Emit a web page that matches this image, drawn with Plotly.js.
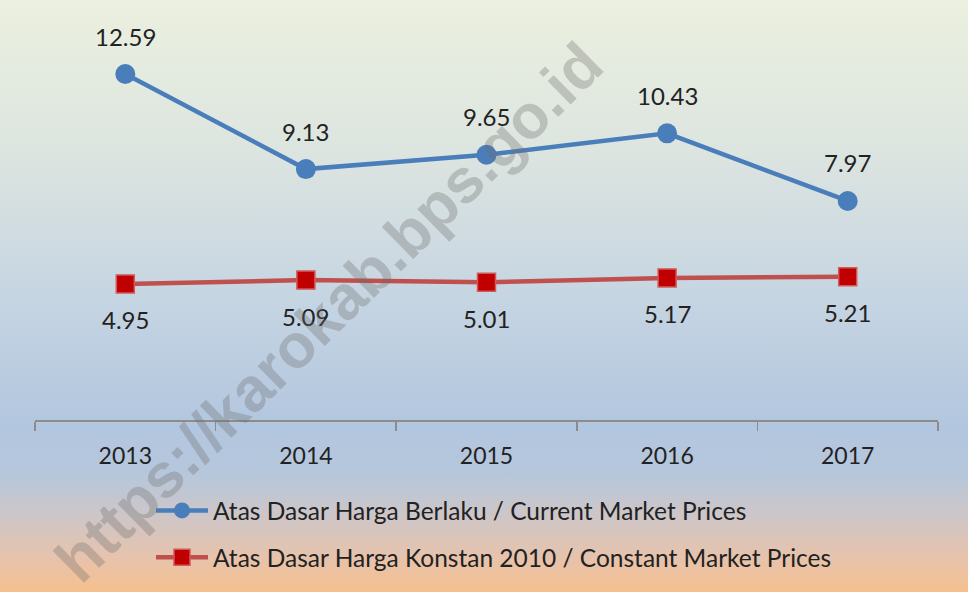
<!DOCTYPE html>
<html>
<head>
<meta charset="utf-8">
<script src="https://cdn.plot.ly/plotly-3.0.1.min.js"></script>
<style>
  html, body { margin: 0; padding: 0; }
  #chart {
    width: 968px; height: 592px;
    background: linear-gradient(to bottom, #ebf0df 0%, #dde5e0 25%, #c6d5e2 50%, #b2c6df 72%, #b6c7dc 80%, #cdc6c8 87%, #e6c3ad 94%, #f6c08e 100%);
  }
</style>
</head>
<body>
<div id="chart"></div>
<script>
const years = ['2013', '2014', '2015', '2016', '2017'];
const currentPrices = [12.59, 9.13, 9.65, 10.43, 7.97];
const constantPrices = [4.95, 5.09, 5.01, 5.17, 5.21];
const seriesNames = [
  'Atas Dasar Harga Berlaku / Current Market Prices',
  'Atas Dasar Harga Konstan 2010 / Constant Market Prices'
];
const watermark = 'https://karokab.bps.go.id';

const FONT = 'Lato, "Open Sans", sans-serif';

// category positions (index of each year) and category boundaries
const xIdx = years.map((_, i) => i);
const boundaries = years.map((_, i) => i - 0.5).concat([years.length - 0.5]);

// plot area in pixels: x 35..938, y 38..420
const PL = 35, PR = 938, PT = 38, PB = 420;
const px2x = px => (px - PL) / (PR - PL);
const py2y = py => (PB - py) / (PB - PT);

const traces = [
  {
    x: xIdx, y: currentPrices, name: seriesNames[0], type: 'scatter', mode: 'lines+markers',
    legendgroup: 'a',
    line: { color: '#4a7ebb', width: 4.5 },
    marker: { symbol: 'circle', size: 20, color: '#4a7ebb', line: { width: 0 } },
    cliponaxis: false, hoverinfo: 'skip'
  },
  {
    x: xIdx, y: constantPrices, name: seriesNames[1], type: 'scatter', mode: 'lines+markers',
    legendgroup: 'b',
    line: { color: '#c0504d', width: 4.5 },
    marker: { symbol: 'square', size: 18, color: '#c00000', line: { width: 1.5, color: '#d05a58' } },
    cliponaxis: false, hoverinfo: 'skip'
  }
];

const annotations = [];
xIdx.forEach((xi, i) => {
  annotations.push({
    x: xi, y: currentPrices[i], xref: 'x', yref: 'y', text: currentPrices[i].toFixed(2),
    xanchor: 'center', yanchor: 'middle',
    showarrow: false, yshift: 38, font: { family: FONT, size: 24, color: '#222222' }
  });
  annotations.push({
    x: xi, y: constantPrices[i], xref: 'x', yref: 'y', text: constantPrices[i].toFixed(2),
    xanchor: 'center', yanchor: 'middle',
    showarrow: false, yshift: -36, font: { family: FONT, size: 24, color: '#222222' }
  });
});
annotations.push({
  x: px2x(328), y: py2y(312), xref: 'paper', yref: 'paper', text: watermark,
  xanchor: 'center', yanchor: 'middle',
  showarrow: false, textangle: -44.5,
  font: { family: '"Liberation Sans", Arial, sans-serif', size: 62, color: 'rgba(110,110,110,0.32)', weight: 'bold' }
});

const layout = {
  width: 968, height: 592,
  margin: { l: PL, r: 968 - PR, t: PT, b: 592 - PB, autoexpand: false },
  paper_bgcolor: 'rgba(0,0,0,0)',
  plot_bgcolor: 'rgba(0,0,0,0)',
  showlegend: true,
  xaxis: {
    type: 'linear', range: [-0.5, years.length - 0.5], autorange: false,
    showgrid: false, zeroline: false,
    showline: true, linecolor: '#8c8c8c', linewidth: 1.5,
    tickmode: 'array', tickvals: xIdx, ticktext: years, ticks: '',
    minor: { tickmode: 'array', tickvals: boundaries, ticks: 'outside', ticklen: 9, tickcolor: '#8c8c8c', tickwidth: 1.5, showgrid: false },
    tickfont: { family: FONT, size: 23, color: '#222222' },
    ticklabelstandoff: 15,
    fixedrange: true
  },
  yaxis: {
    range: [0, 13.9], autorange: false, visible: false, showgrid: false, zeroline: false, fixedrange: true
  },
  legend: {
    x: px2x(151), y: py2y(488), xanchor: 'left', yanchor: 'top',
    orientation: 'v', bgcolor: 'rgba(0,0,0,0)', borderwidth: 0,
    tracegroupgap: 12, itemwidth: 52,
    font: { family: FONT, size: 24.5, color: '#222222' }
  },
  annotations: annotations
};

Plotly.newPlot('chart', traces, layout, { displayModeBar: false, staticPlot: true });
</script>
</body>
</html>
